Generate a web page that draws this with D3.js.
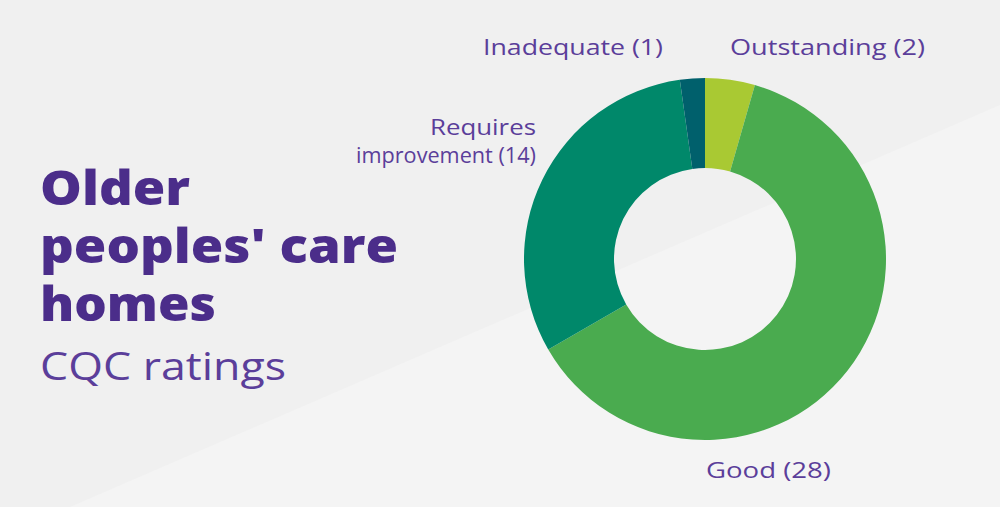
<!DOCTYPE html><html><head><meta charset="utf-8"><script src="https://d3js.org/d3.v7.min.js"></script>
<style>body{margin:0;background:#f1f1f1}svg{display:block}</style></head><body><svg width="1000" height="507"></svg>
<script>
const categories=["Outstanding","Good","Requires improvement","Inadequate"];
const values=[2,28,14,1];
const colors=["#a9c933","#4aab4f","#00886a","#00606c"];
const svg=d3.select("svg");
svg.append("rect").attr("width",1000).attr("height",507).attr("fill","#f0f0f0");
svg.append("path").attr("d","M70,507 L1000,105 L1000,507 Z").attr("fill","#f4f4f4");
const g=svg.append("g").attr("transform","translate(705,259)");
const pie=d3.pie().sort(null).value(d=>d)(values);
const arc=d3.arc().innerRadius(91).outerRadius(181);
g.selectAll("path").data(pie).join("path").attr("d",arc).attr("fill",(d,i)=>colors[i]);
const lab=svg.append("g").attr("font-family","'Open Sans', sans-serif").attr("font-size",22).attr("fill","#5b3e9a");
function T(sel,x,y,s,w,anchor){const e=sel.append("text").attr("x",x).attr("y",y).text(s).attr("textLength",w).attr("lengthAdjust","spacingAndGlyphs");if(anchor)e.attr("text-anchor",anchor);return e;}
T(lab,730,55,`${categories[0]} (${values[0]})`,195);
T(lab,663,55,`${categories[3]} (${values[3]})`,180,"end");
T(lab,536,135,"Requires",106,"end");
T(lab,536,163,`improvement (${values[2]})`,180,"end");
T(lab,706,478,`${categories[1]} (${values[1]})`,125);
const t=svg.append("g").attr("font-family","'Open Sans', sans-serif").attr("fill","#4b2d8a");
[["Older",150],["peoples' care",358],["homes",176]].forEach((s,i)=>T(t,40,205+i*58,s[0],s[1]).attr("font-size",48).attr("font-weight",800));
T(t,40,380,"CQC ratings",246).attr("font-size",38).attr("fill","#5b3e9a");
</script></body></html>
